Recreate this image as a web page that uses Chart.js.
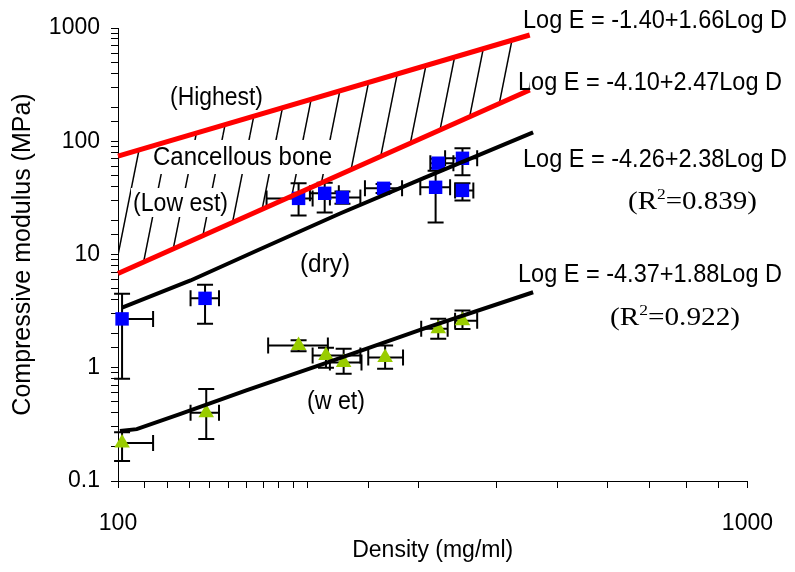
<!DOCTYPE html>
<html>
<head>
<meta charset="utf-8">
<script src="https://cdn.jsdelivr.net/npm/chart.js@4.4.0/dist/chart.umd.min.js"></script>
<style>
  html, body { margin: 0; padding: 0; background: #fff; }
</style>
</head>
<body>
<canvas id="chart" width="795" height="572"></canvas>
<script>
// Límites del hueso esponjoso (líneas rojas)
const boundDensity = [100, 451];
const highestModulus = [74, 867];
const lowestModulus = [6.8, 283];

// Ajustes (líneas negras)
const dryFitDensity = [101.5, 130.4, 166, 225.3, 305.2, 456.6];
const dryFitModulus = [3.4, 5.9, 10.8, 23, 47, 120];
const wetFitDensity = [100.7, 107.1, 125.4, 159.9, 212, 305.2, 456.6];
const wetFitModulus = [0.277, 0.287, 0.39, 0.63, 1.08, 2.2, 4.64];

// Muestras secas (cuadrados azules)
const dryDensity = [101.5, 137.5, 193.6, 213, 227.3, 264.2, 319.6, 322.7, 352.6, 352.6];
const dryModulus = [2.7, 4.1, 31.3, 34.7, 31.9, 38.4, 39.2, 64, 70.7, 36.8];
const dryDensityLow = [null, 130.4, 172.2, 201.8, 217.1, 246.8, 302.2, 313.5, 330.9, 343.2];
const dryDensityHigh = [113.7, 144.7, 203.8, 224.3, 242.7, 282.7, 337, 341.1, 372.1, 366.9];
const dryModulusLow = [0.8, 2.45, 22.1, 23.5, 28, 35, 19.2, 58, 50, 30];
const dryModulusHigh = [4.5, 5.4, 42.5, 43, 36, 42, 55, 70, 86.7, 42.5];

// Muestras húmedas (triángulos verdes)
const wetDensity = [101.5, 138.1, 193.6, 214, 228.3, 265.7, 322.7, 352.6];
const wetModulus = [0.217, 0.40, 1.57, 1.28, 1.11, 1.23, 2.21, 2.6];
const wetDensityLow = [null, 130.4, 173.2, 203.8, 217.1, 249.8, 303.2, 343.2];
const wetDensityHigh = [113.7, 144.7, 215.5, 242.7, 243.7, 283.7, 334, 372.1];
const wetModulusLow = [0.15, 0.235, 1.4, 1.0, 0.885, 0.98, 1.8, 2.2];
const wetModulusHigh = [0.27, 0.65, 1.75, 1.5, 1.47, 1.57, 2.71, 3.2];

const yTickLabels = [0.1, 1, 10, 100, 1000];
const xTickLabels = [100, 1000];

const SANS = '"Liberation Sans", Arial, Helvetica, sans-serif';
const SERIF = '"Liberation Serif", "Times New Roman", serif';

const toPoints = (xs, ys) => xs.map((x, i) => ({ x, y: ys[i] }));
const near = (v, list) => list.some(t => Math.abs(v - t) / t < 1e-6);

// Patrón de rayado para la zona del hueso esponjoso
const makeHatch = () => {
    const w = 27, h = 135;
    const c = document.createElement('canvas');
    c.width = w; c.height = h;
    const g = c.getContext('2d');
    g.strokeStyle = '#000';
    g.lineWidth = 1.5;
    for (let k = -1; k <= 1; k++) {
        g.beginPath();
        g.moveTo(k * w, h);
        g.lineTo((k + 1) * w, 0);
        g.stroke();
    }
    const p = g.createPattern(c, 'repeat');
    if (p.setTransform) p.setTransform(new DOMMatrix().translate(7, 0));
    return p;
};

// Texto escalado a un ancho dado
const drawText = (ctx, parts, x, y, width) => {
    let natural = 0;
    parts.forEach(p => { ctx.font = p.font; natural += ctx.measureText(p.t).width; });
    ctx.save();
    ctx.translate(x, y);
    ctx.scale(width / natural, 1);
    ctx.fillStyle = '#000';
    ctx.textAlign = 'left';
    ctx.textBaseline = 'alphabetic';
    let cx = 0;
    parts.forEach(p => {
        ctx.font = p.font;
        ctx.fillText(p.t, cx, p.dy || 0);
        cx += ctx.measureText(p.t).width;
    });
    ctx.restore();
};

const regionFont = '25px ' + SANS;
const regionLabels = [
    { t: '(Highest)', x: 170, y: 105, w: 93 },
    { t: 'Cancellous bone', x: 153, y: 165, w: 179, box: [150, 140, 186, 34] },
    { t: '(Low est)', x: 133, y: 211, w: 95, box: [131, 188, 100, 29] },
    { t: '(dry)', x: 300, y: 272, w: 50 },
    { t: '(w et)', x: 307, y: 409, w: 58 }
];

const eqFont = '26px ' + SANS;
const rFont = '25px ' + SERIF;
const supFont = '15px ' + SERIF;
const eqLabels = [
    { parts: [{ t: 'Log E = -1.40+1.66Log D', font: eqFont }], x: 523, y: 28, w: 264 },
    { parts: [{ t: 'Log E = -4.10+2.47Log D', font: eqFont }], x: 518, y: 90, w: 264 },
    { parts: [{ t: 'Log E = -4.26+2.38Log D', font: eqFont }], x: 523, y: 167, w: 264 },
    { parts: [{ t: '(R', font: rFont }, { t: '2', font: supFont, dy: -10 }, { t: '=0.839)', font: rFont }], x: 628, y: 209, w: 129 },
    { parts: [{ t: 'Log E = -4.37+1.88Log D', font: eqFont }], x: 518, y: 282, w: 264 },
    { parts: [{ t: '(R', font: rFont }, { t: '2', font: supFont, dy: -10 }, { t: '=0.922)', font: rFont }], x: 610, y: 325, w: 130 }
];

const errorSets = [
    { d: dryDensity, e: dryModulus, dLo: dryDensityLow, dHi: dryDensityHigh, eLo: dryModulusLow, eHi: dryModulusHigh },
    { d: wetDensity, e: wetModulus, dLo: wetDensityLow, dHi: wetDensityHigh, eLo: wetModulusLow, eHi: wetModulusHigh }
];

const annotations = {
    id: 'annotations',
    beforeDatasetsDraw(chart) {
        const { ctx, scales: { x, y } } = chart;
        // cajas blancas detrás de los rótulos y rótulos
        regionLabels.forEach(l => {
            if (l.box) {
                ctx.save();
                ctx.fillStyle = '#fff';
                ctx.fillRect(...l.box);
                ctx.restore();
            }
            drawText(ctx, [{ t: l.t, font: regionFont }], l.x, l.y, l.w);
        });
        // barras de error
        const cap = 8;
        ctx.save();
        ctx.strokeStyle = '#000';
        ctx.lineWidth = 2;
        errorSets.forEach(s => {
            s.d.forEach((d, i) => {
                const px = x.getPixelForValue(d);
                const py = y.getPixelForValue(s.e[i]);
                ctx.beginPath();
                [s.dLo[i], s.dHi[i]].forEach(v => {
                    if (v == null) return;
                    const xx = x.getPixelForValue(v);
                    ctx.moveTo(px, py); ctx.lineTo(xx, py);
                    ctx.moveTo(xx, py - cap); ctx.lineTo(xx, py + cap);
                });
                [s.eLo[i], s.eHi[i]].forEach(v => {
                    if (v == null) return;
                    const yy = y.getPixelForValue(v);
                    ctx.moveTo(px, py); ctx.lineTo(px, yy);
                    ctx.moveTo(px - cap, yy); ctx.lineTo(px + cap, yy);
                });
                ctx.stroke();
            });
        });
        ctx.restore();
    },
    afterDraw(chart) {
        eqLabels.forEach(l => drawText(chart.ctx, l.parts, l.x, l.y, l.w));
    }
};

Chart.defaults.font.family = SANS;
Chart.defaults.color = '#000';

const axisCommon = {
    type: 'logarithmic',
    border: { display: true, color: '#000', width: 1 },
    grid: { drawOnChartArea: false, drawTicks: true, tickLength: 7, color: '#000', tickColor: '#000', tickWidth: 1 }
};

new Chart(document.getElementById('chart'), {
    type: 'line',
    data: {
        datasets: [
            {
                label: 'Highest',
                data: toPoints(boundDensity, highestModulus),
                borderColor: '#ff0000', borderWidth: 5, pointRadius: 0,
                fill: false, order: 0, clip: false
            },
            {
                label: 'Lowest',
                data: toPoints(boundDensity, lowestModulus),
                borderColor: '#ff0000', borderWidth: 5, pointRadius: 0,
                fill: '-1', backgroundColor: makeHatch(), order: 1, clip: false
            },
            {
                label: 'dry fit',
                data: toPoints(dryFitDensity, dryFitModulus),
                borderColor: '#000', borderWidth: 4, pointRadius: 0,
                fill: false, order: 2, clip: false
            },
            {
                label: 'wet fit',
                data: toPoints(wetFitDensity, wetFitModulus),
                borderColor: '#000', borderWidth: 4, pointRadius: 0,
                fill: false, order: 3, clip: false
            },
            {
                label: 'dry',
                data: toPoints(dryDensity, dryModulus),
                showLine: false, fill: false,
                pointStyle: 'rect', pointRadius: 9.5,
                backgroundColor: '#0000ff', borderColor: '#0000ff', borderWidth: 0,
                order: 4, clip: false
            },
            {
                label: 'wet',
                data: toPoints(wetDensity, wetModulus),
                showLine: false, fill: false,
                pointStyle: 'triangle', pointRadius: 9,
                backgroundColor: '#99cc00', borderColor: '#99cc00', borderWidth: 0,
                order: 5, clip: false
            }
        ]
    },
    options: {
        responsive: false,
        animation: false,
        layout: { padding: { top: 28, right: 40, bottom: 0, left: 0 } },
        plugins: {
            legend: { display: false },
            tooltip: { enabled: false },
            filler: { drawTime: 'beforeDatasetsDraw' }
        },
        scales: {
            x: {
                ...axisCommon,
                min: 100, max: 1000,
                afterFit: s => { s.height = 91; },
                ticks: {
                    autoSkip: false, maxRotation: 0, padding: 22,
                    font: { size: 23 },
                    callback: v => near(v, xTickLabels) ? String(Math.round(v)) : ''
                },
                title: {
                    display: true, text: 'Density (mg/ml)',
                    font: { size: 23 }, padding: { top: 0, bottom: 8 }
                }
            },
            y: {
                ...axisCommon,
                min: 0.1, max: 1000,
                afterFit: s => { s.width = 118; },
                ticks: {
                    autoSkip: false, padding: 11,
                    font: { size: 23 },
                    callback: v => near(v, yTickLabels) ? (v < 1 ? '0.1' : String(Math.round(v))) : ''
                },
                title: {
                    display: true, text: 'Compressive modulus (MPa)',
                    font: { size: 25 }, padding: { top: 8, bottom: 0 }
                }
            }
        }
    },
    plugins: [annotations]
});
</script>
</body>
</html>
